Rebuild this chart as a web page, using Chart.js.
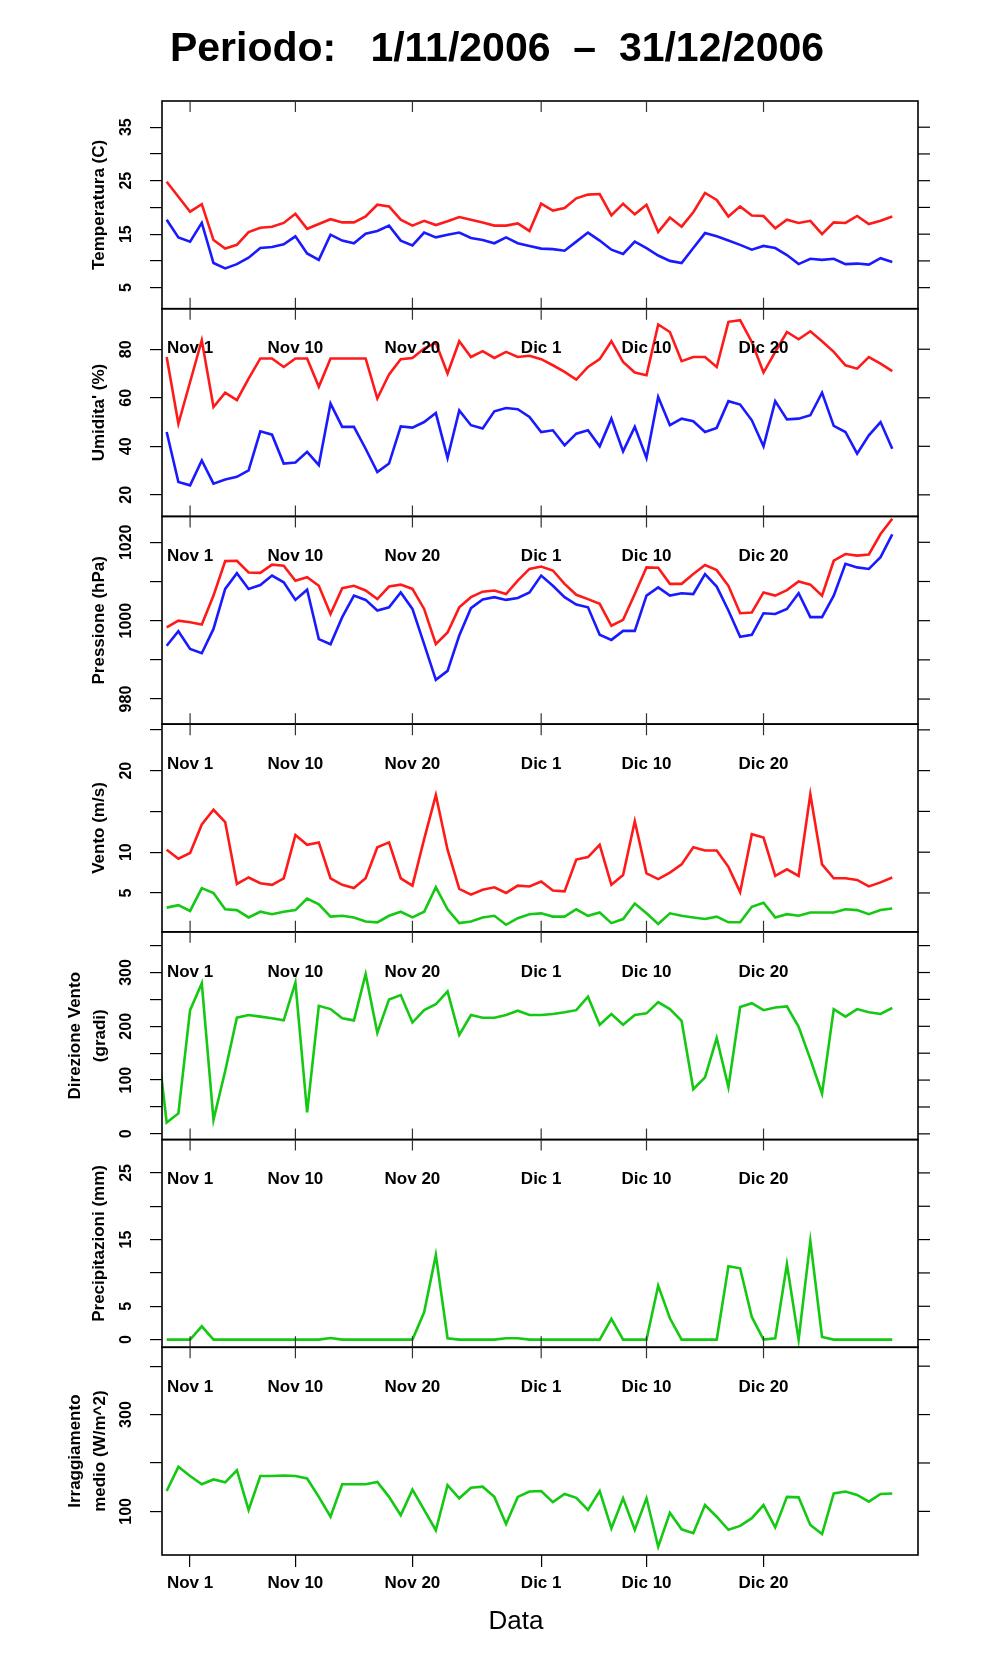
<!DOCTYPE html>
<html>
<head>
<meta charset="utf-8">
<script src="https://cdn.jsdelivr.net/npm/chart.js@4/dist/chart.umd.min.js"></script>
<style>
  html, body { margin: 0; padding: 0; background: #fff; }
  #wrap { width: 996px; height: 1680px; position: relative; }
</style>
</head>
<body>
<div id="wrap"><canvas id="meteo" width="996" height="1680"></canvas></div>
<script>
'use strict';

// day offsets from 1 Nov 2006 (0 = Nov 1, 30 = Dic 1, 60 = Dic 31)
const days = [-3,-2,-1,0,1,2,3,4,5,6,7,8,9,10,11,12,13,14,15,16,17,18,19,20,21,22,23,24,25,26,27,28,29,
  30,31,32,33,34,35,36,37,38,39,40,41,42,43,44,45,46,47,48,49,50,51,52,53,54,55,56,57,58,59,60];

const dateTicks = [0, 9, 19, 30, 39, 49];
const dateLabels = ['Nov 1', 'Nov 10', 'Nov 20', 'Dic 1', 'Dic 10', 'Dic 20'];

const tempMax = [null,24.8,22.0,19.2,20.6,13.9,12.3,13.0,15.4,16.2,16.4,17.1,18.8,16.0,16.9,17.8,17.2,17.2,18.3,20.5,20.2,17.7,16.6,17.5,16.7,17.4,18.2,17.7,17.2,16.6,16.6,17.0,15.6,
  20.7,19.4,19.9,21.7,22.4,22.5,18.5,20.7,18.7,20.5,15.4,18.1,16.4,19.1,22.7,21.4,18.3,20.2,18.5,18.4,16.1,17.7,17.1,17.5,15.0,17.2,17.1,18.4,16.9,17.5,18.3];
const tempMin = [null,17.7,14.4,13.6,17.1,9.6,8.6,9.4,10.6,12.4,12.6,13.1,14.6,11.4,10.2,14.9,13.8,13.3,15.1,15.6,16.6,13.8,12.9,15.3,14.4,14.9,15.3,14.3,13.9,13.3,14.4,13.3,12.8,
  12.3,12.2,11.9,13.6,15.3,13.8,12.1,11.3,13.6,12.4,11.0,10.0,9.6,12.4,15.2,14.6,13.8,13.0,12.1,12.8,12.4,11.1,9.4,10.4,10.2,10.4,9.4,9.5,9.3,10.5,9.8];

const humMax = [null,76.8,49.3,66.5,83.7,56.2,62.1,59.0,67.9,76.2,76.2,72.7,76.2,76.2,64.5,76.2,76.2,76.2,76.2,59.7,69.6,75.9,76.4,80.3,82.7,70.0,83.3,76.8,79.2,76.4,78.9,76.8,77.3,
  75.9,73.4,70.7,67.5,72.7,75.9,83.3,74.8,70.4,69.3,90.2,87.1,75.1,76.8,76.8,72.7,91.3,92.0,83.0,70.4,78.9,87.1,84.1,87.4,83.3,78.9,73.4,72.0,76.8,74.1,71.0];
const humMin = [null,45.9,25.3,23.9,34.2,24.6,26.3,27.4,30.1,46.2,44.8,32.9,33.3,37.7,32.2,57.6,48.0,48.0,39.0,29.4,32.9,48.2,47.7,50.0,53.7,35.2,54.8,48.7,47.3,54.4,55.8,55.3,52.1,
  45.9,46.6,40.4,45.2,46.6,40.0,51.4,37.9,48.0,35.2,60.3,48.7,51.4,50.3,45.9,47.6,58.6,57.2,50.7,40.0,58.6,51.1,51.4,52.8,62.1,48.4,45.9,37.0,44.5,50.0,39.0];

const presMax = [null,998.3,1000.0,999.6,999.0,1006.4,1015.2,1015.3,1012.3,1012.2,1014.3,1014.0,1010.2,1011.1,1008.9,1001.7,1008.3,1008.9,1007.7,1005.5,1008.7,1009.2,1008.1,1003.0,994.0,997.0,1003.4,1006.0,1007.4,1007.7,1006.8,1010.2,1013.2,
  1013.8,1012.8,1009.4,1006.6,1005.5,1004.3,998.7,1000.2,1006.8,1013.6,1013.5,1009.4,1009.4,1011.9,1014.2,1012.9,1008.9,1001.9,1002.1,1007.2,1006.4,1007.8,1010.0,1009.2,1006.4,1015.3,1017.0,1016.6,1016.9,1022.1,1026.0];
const presMin = [null,993.6,997.3,992.8,991.7,997.9,1008.1,1012.1,1008.1,1009.1,1011.5,1009.8,1005.3,1007.9,995.3,994.0,1000.9,1006.4,1005.3,1002.6,1003.4,1007.2,1003.0,994.0,984.9,987.2,996.2,1003.2,1005.4,1006.0,1005.3,1005.8,1007.2,
  1011.5,1008.9,1006.0,1004.1,1003.4,996.4,995.1,997.4,997.4,1006.4,1008.5,1006.4,1007.0,1006.8,1011.9,1008.7,1002.6,995.9,996.4,1001.9,1001.7,1003.0,1007.0,1000.9,1000.9,1006.4,1014.5,1013.6,1013.2,1016.2,1022.0];

const windMax = [null,10.3,9.2,9.9,13.4,15.2,13.7,6.1,6.9,6.2,6.0,6.8,12.1,10.9,11.2,6.8,6.0,5.6,6.8,10.6,11.2,6.8,5.9,11.6,17.0,10.3,5.5,4.8,5.4,5.7,5.0,5.9,5.8,
  6.4,5.3,5.2,9.1,9.4,10.9,6.0,7.2,13.8,7.4,6.7,7.5,8.5,10.6,10.2,10.2,8.2,5.1,12.2,11.8,7.1,7.9,7.1,17.1,8.5,6.8,6.8,6.6,5.8,6.3,6.9];
const windAvg = [null,3.2,3.5,2.8,5.6,5.0,3.0,2.9,2.0,2.7,2.4,2.7,2.9,4.3,3.6,2.1,2.2,2.0,1.5,1.4,2.2,2.7,2.0,2.7,5.7,3.0,1.3,1.5,2.0,2.2,1.1,1.9,2.4,
  2.5,2.1,2.1,3.0,2.2,2.6,1.3,1.8,3.7,2.5,1.2,2.5,2.2,2.0,1.8,2.1,1.4,1.4,3.3,3.8,2.0,2.4,2.2,2.6,2.6,2.6,3.0,2.9,2.4,2.9,3.1];

const windDir = [210,21,38,230,280,26,117,216,221,218,215,211,281,40,238,232,215,211,297,188,250,258,207,230,241,265,184,221,216,216,221,229,221,
  221,223,226,230,255,203,223,203,221,224,245,232,210,83,105,178,87,236,243,230,235,237,199,139,75,232,218,232,226,223,234];

const rain = [null,0,0,0,2.0,0,0,0,0,0,0,0,0,0,0,0.25,0,0,0,0,0,0,0,4.1,12.7,0.2,0,0,0,0,0.2,0.2,0,
  0,0,0,0,0,0,3.1,0,0,0,8.1,3.2,0,0,0,0,11.0,10.7,3.4,0,0.2,11.3,0,14.8,0.4,0,0,0,0,0,0];

const solar = [null,142,192,173,156,166,160,185,103,173,173,174,173,168,130,89,156,156,156,161,130,92,145,103,61,154,127,149,151,130,74,130,141,
  142,119,136,128,103,142,65,127,62,127,27,97,63,55,113,89,62,70,86,113,67,130,129,72,53,137,141,134,120,136,137];

// panel definitions, top to bottom: id, range, tick positions, labelled ticks, title lines
const panels = [
  { id: 'yT', min: 1.06, max: 39.9, ticks: [5,10,15,20,25,30,35], labels: [5,15,25,35], title: ['Temperatura (C)'] },
  { id: 'yU', min: 11.1, max: 96.7, ticks: [20,40,60,80], labels: [20,40,60,80], title: ["Umidita' (%)"] },
  { id: 'yP', min: 973.6, max: 1026.6, ticks: [980,990,1000,1010,1020], labels: [980,1000,1020], title: ['Pressione (hPa)'] },
  { id: 'yV', min: 0.23, max: 25.7, ticks: [5,10,15,20,25], labels: [5,10,20], title: ['Vento (m/s)'] },
  { id: 'yD', min: -10.6, max: 375.6, ticks: [0,50,100,150,200,250,300,350], labels: [0,100,200,300], title: ['Direzione Vento', '(gradi)'] },
  { id: 'yR', min: -1.15, max: 30, ticks: [0,5,10,15,20,25], labels: [0,5,15,25], title: ['Precipitazioni (mm)'] },
  { id: 'yI', min: 9.9, max: 439, ticks: [100,200,300,400], labels: [100,300], title: ['Irraggiamento', 'medio (W/m^2)'] }
];

const RED = '#ff1a1a', BLUE = '#1a1aff', GREEN = '#14c814';
const FONT = '"Liberation Sans", Arial, sans-serif';

function series(values, axis, color) {
  return {
    data: days.map((d, i) => ({ x: d, y: values[i] })),
    yAxisID: axis,
    borderColor: color,
    borderWidth: 2.6,
    pointRadius: 0,
    tension: 0,
    fill: false
  };
}

function yAxis(p) {
  return {
    type: 'linear',
    position: 'left',
    stack: 'panels',
    stackWeight: 1,
    min: p.min,
    max: p.max,
    afterBuildTicks: s => { s.ticks = p.ticks.map(v => ({ value: v })); },
    afterFit: s => { s.width = 162; },
    ticks: { display: false },
    grid: { drawOnChartArea: false, drawTicks: true, tickLength: 12, color: '#000', lineWidth: 1.2 },
    border: { display: false }
  };
}

const scales = {
  x: {
    type: 'linear',
    position: 'bottom',
    min: -2.4,
    max: 62.2,
    afterBuildTicks: s => { s.ticks = dateTicks.map(v => ({ value: v })); },
    afterFit: s => { s.height = 125; },
    ticks: {
      autoSkip: false,
      maxRotation: 0,
      padding: 6,
      color: '#000',
      font: { family: FONT, size: 17, weight: 'bold' },
      callback: v => dateLabels[dateTicks.indexOf(v)]
    },
    grid: { drawOnChartArea: false, drawTicks: true, tickLength: 12, color: '#000', lineWidth: 1.2 },
    border: { display: false }
  }
};
// stacked left axes are placed last-defined on top, so add them bottom first
panels.slice().reverse().forEach(p => { scales[p.id] = yAxis(p); });

// frames, inner date ticks/labels, right ticks, rotated labels and titles
const decorations = {
  id: 'decorations',
  afterDraw(chart) {
    const ctx = chart.ctx;
    const area = chart.chartArea;
    const xs = chart.scales.x;
    ctx.save();
    ctx.strokeStyle = '#000';
    ctx.fillStyle = '#000';

    panels.forEach((p, k) => {
      const sc = chart.scales[p.id];
      const top = sc.top, bottom = sc.bottom;

      ctx.lineWidth = 1.6;
      ctx.strokeRect(area.left, top, area.right - area.left, bottom - top);

      // date ticks inside the frame
      ctx.lineWidth = 1.2;
      ctx.strokeStyle = '#333';
      dateTicks.forEach(d => {
        const px = xs.getPixelForValue(d);
        ctx.beginPath();
        ctx.moveTo(px, top);
        ctx.lineTo(px, top + 11);
        if (k < panels.length - 1) {
          ctx.moveTo(px, bottom);
          ctx.lineTo(px, bottom - 11);
        }
        ctx.stroke();
      });
      ctx.strokeStyle = '#000';

      // date labels at the top of panels 2..7
      if (k > 0) {
        ctx.font = 'bold 17px ' + FONT;
        ctx.textAlign = 'center';
        ctx.textBaseline = 'middle';
        dateTicks.forEach((d, i) => {
          ctx.fillText(dateLabels[i], xs.getPixelForValue(d), top + 40);
        });
      }

      // right-hand ticks
      ctx.lineWidth = 1.2;
      p.ticks.forEach(v => {
        const py = sc.getPixelForValue(v);
        ctx.beginPath();
        ctx.moveTo(area.right, py);
        ctx.lineTo(area.right + 12, py);
        ctx.stroke();
      });

      // rotated tick labels
      ctx.font = 'bold 16px ' + FONT;
      ctx.textAlign = 'center';
      ctx.textBaseline = 'middle';
      p.labels.forEach(v => {
        const py = sc.getPixelForValue(v);
        ctx.save();
        ctx.translate(127, py);
        ctx.rotate(-Math.PI / 2);
        ctx.fillText(String(v), 0, 0);
        ctx.restore();
      });

      // axis title
      ctx.font = 'bold 17px ' + FONT;
      const cy = (top + bottom) / 2;
      const xPos = p.title.length === 1 ? [99] : [75, 100];
      p.title.forEach((line, i) => {
        ctx.save();
        ctx.translate(xPos[i], cy);
        ctx.rotate(-Math.PI / 2);
        ctx.fillText(line, 0, 0);
        ctx.restore();
      });
    });

    // main title, scaled to the reference width
    const title = 'Periodo:   1/11/2006  \u2013  31/12/2006';
    ctx.font = 'bold 40px ' + FONT;
    const w = ctx.measureText(title).width;
    const size = Math.round(40 * 657 / w);
    ctx.font = 'bold ' + size + 'px ' + FONT;
    ctx.textAlign = 'center';
    ctx.textBaseline = 'middle';
    ctx.fillText(title, 497, 50);

    ctx.font = '26px ' + FONT;
    ctx.fillText('Data', 516, 1622);
    ctx.restore();
  }
};

new Chart(document.getElementById('meteo'), {
  type: 'line',
  data: {
    datasets: [
      series(tempMax, 'yT', RED), series(tempMin, 'yT', BLUE),
      series(humMax, 'yU', RED), series(humMin, 'yU', BLUE),
      series(presMax, 'yP', RED), series(presMin, 'yP', BLUE),
      series(windMax, 'yV', RED), series(windAvg, 'yV', GREEN),
      series(windDir, 'yD', GREEN),
      series(rain, 'yR', GREEN),
      series(solar, 'yI', GREEN)
    ]
  },
  options: {
    responsive: false,
    animation: false,
    devicePixelRatio: 1,
    layout: { padding: { top: 101, right: 78, left: 0, bottom: 0 } },
    plugins: { legend: { display: false }, tooltip: { enabled: false } },
    scales: scales
  },
  plugins: [decorations]
});
</script>
</body>
</html>
